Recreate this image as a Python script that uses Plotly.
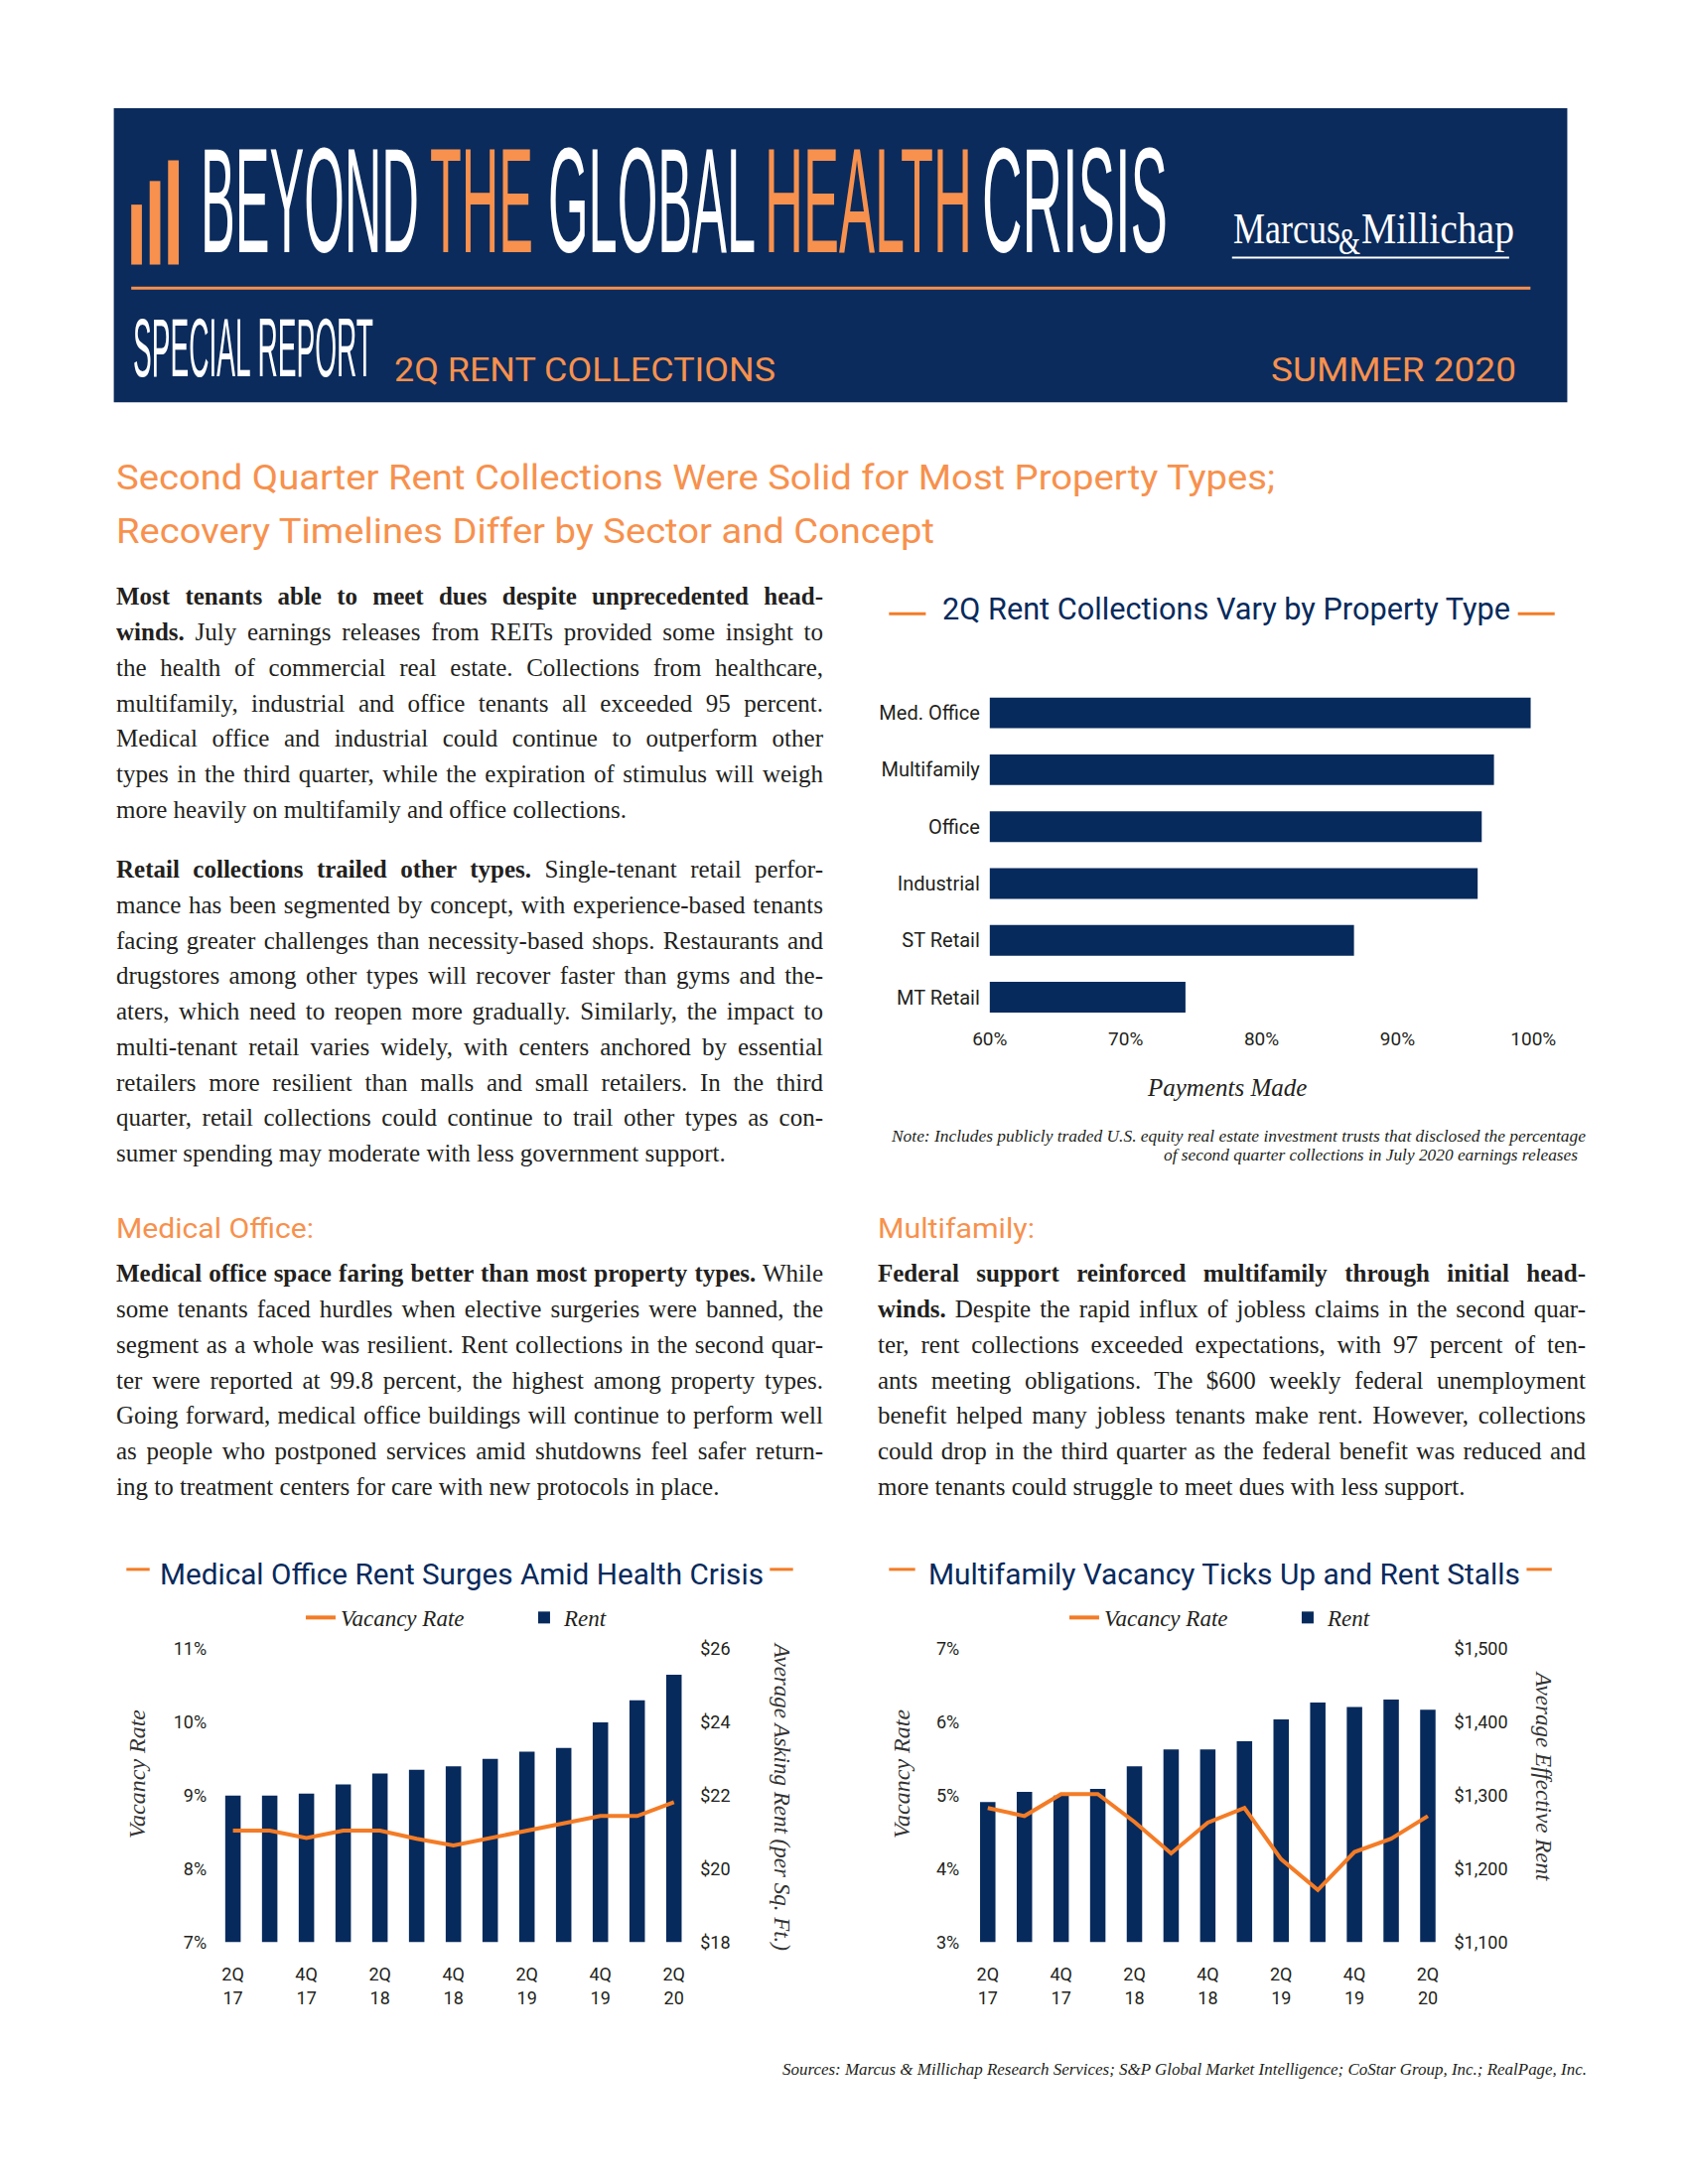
import json
import plotly.graph_objects as go

# ---------------- data ----------------
property_types = ["Med. Office", "Multifamily", "Office", "Industrial", "ST Retail", "MT Retail"]
payments_made = [99.8, 97.1, 96.2, 95.9, 86.8, 74.4]
payment_ticks = [60, 70, 80, 90, 100]
payment_tick_text = ["60%", "70%", "80%", "90%", "100%"]

quarters = ["2Q17", "3Q17", "4Q17", "1Q18", "2Q18", "3Q18", "4Q18",
            "1Q19", "2Q19", "3Q19", "4Q19", "1Q20", "2Q20"]
quarter_tick_vals = ["2Q17", "4Q17", "2Q18", "4Q18", "2Q19", "4Q19", "2Q20"]
quarter_tick_text = ["2Q<br>17", "4Q<br>17", "2Q<br>18", "4Q<br>18", "2Q<br>19", "4Q<br>19", "2Q<br>20"]

med_rent = [22.0, 22.0, 22.05, 22.3, 22.6, 22.7, 22.8, 23.0, 23.2, 23.3, 24.0, 24.6, 25.3]
med_vacancy = [8.52, 8.52, 8.42, 8.52, 8.52, 8.41, 8.32, 8.42, 8.52, 8.63, 8.72, 8.72, 8.91]
mf_rent = [1291, 1305, 1300, 1309, 1340, 1363, 1363, 1374, 1404, 1427, 1421, 1431, 1417]
mf_vacancy = [4.83, 4.72, 5.02, 5.02, 4.64, 4.21, 4.63, 4.83, 4.13, 3.71, 4.23, 4.41, 4.72]

# ---------------- text ----------------
para1 = [
    "<b>Most tenants able to meet dues despite unprecedented head-</b>",
    "<b>winds.</b> July earnings releases from REITs provided some insight to",
    "the health of commercial real estate. Collections from healthcare,",
    "multifamily, industrial and office tenants all exceeded 95 percent.",
    "Medical office and industrial could continue to outperform other",
    "types in the third quarter, while the expiration of stimulus will weigh",
    "more heavily on multifamily and office collections.",
]
para2 = [
    "<b>Retail collections trailed other types.</b> Single-tenant retail perfor-",
    "mance has been segmented by concept, with experience-based tenants",
    "facing greater challenges than necessity-based shops. Restaurants and",
    "drugstores among other types will recover faster than gyms and the-",
    "aters, which need to reopen more gradually. Similarly, the impact to",
    "multi-tenant retail varies widely, with centers anchored by essential",
    "retailers more resilient than malls and small retailers. In the third",
    "quarter, retail collections could continue to trail other types as con-",
    "sumer spending may moderate with less government support.",
]
para_med = [
    "<b>Medical office space faring better than most property types.</b> While",
    "some tenants faced hurdles when elective surgeries were banned, the",
    "segment as a whole was resilient. Rent collections in the second quar-",
    "ter were reported at 99.8 percent, the highest among property types.",
    "Going forward, medical office buildings will continue to perform well",
    "as people who postponed services amid shutdowns feel safer return-",
    "ing to treatment centers for care with new protocols in place.",
]
para_mf = [
    "<b>Federal support reinforced multifamily through initial head-</b>",
    "<b>winds.</b> Despite the rapid influx of jobless claims in the second quar-",
    "ter, rent collections exceeded expectations, with 97 percent of ten-",
    "ants meeting obligations. The $600 weekly federal unemployment",
    "benefit helped many jobless tenants make rent. However, collections",
    "could drop in the third quarter as the federal benefit was reduced and",
    "more tenants could struggle to meet dues with less support.",
]

# ---------------- style ----------------
W, H = 1700, 2200
NAVY = "#072a5c"
BOX = "#0b2b5c"
ORANGE = "#f47c26"
ORANGE_TXT = "#f7914d"
INK = "#231f20"
SERIF = "Liberation Serif, DejaVu Serif, serif"
SANS = "Roboto, Liberation Sans, sans-serif"
COND = "Liberation Sans Narrow, Liberation Sans, Arial, sans-serif"


def X(px):
    return px / W


def Y(py):
    return 1 - py / H


annotations = []
shapes = []
fit_specs = []


def add_text(x, y, s, size, color=INK, family=SERIF, xanchor="left", angle=0,
             style="normal", weight="normal", fit=None, mode="spacingAndGlyphs", caps=None):
    annotations.append(dict(
        x=X(x), y=Y(y), xref="paper", yref="paper", text=s, showarrow=False,
        xanchor=xanchor, yanchor="middle", align=xanchor, textangle=angle,
        font=dict(family=family, size=size, color=color, style=style, weight=weight),
        borderpad=0,
    ))
    if fit:
        if caps:
            fit_specs.append([s, fit, "tall", caps[0], caps[1]])
        else:
            fit_specs.append([s, fit, mode])


def add_rect(x0, y0, x1, y1, color, layer="below"):
    shapes.append(dict(type="rect", xref="paper", yref="paper", x0=X(x0), x1=X(x1),
                       y0=Y(y1), y1=Y(y0), fillcolor=color, line=dict(width=0), layer=layer))


def add_line(x0, y0, x1, y1, color, width):
    shapes.append(dict(type="line", xref="paper", yref="paper", x0=X(x0), x1=X(x1),
                       y0=Y(y0), y1=Y(y1), line=dict(color=color, width=width)))


# ---------------- header ----------------
add_rect(99, 99, 1599, 398, BOX)
add_rect(117, 197, 128, 258, ORANGE_TXT, layer="above")
add_rect(136, 173, 147, 258, ORANGE_TXT, layer="above")
add_rect(155, 152, 166, 258, ORANGE_TXT, layer="above")
title_words = [("BEYOND", 188, 220, "white"), ("THE", 424, 104, ORANGE_TXT),
               ("GLOBAL", 546, 209, "white"), ("HEALTH", 770, 209, ORANGE_TXT),
               ("CRISIS", 994, 187, "white")]
for word, wx, ww, wc in title_words:
    add_text(wx, 204, word, 52, color=wc, family=COND, fit=ww, caps=(150, 254))
add_text(1253, 230, "Marcus", 36, color="white", family=SERIF, fit=108, caps=(215, 245))
add_text(1362, 242, "&", 26, color="white", family=SERIF, fit=22, caps=(231, 256))
add_text(1385, 230, "Millichap", 36, color="white", family=SERIF, fit=154, caps=(215, 245))
add_line(1253, 251, 1539, 251, "white", 2)
add_line(117, 282, 1561, 282, ORANGE_TXT, 3)
add_text(118, 352, "SPECIAL REPORT", 28, color="white", family=COND, fit=242, caps=(323, 379))
add_text(387, 364, "2Q RENT COLLECTIONS", 34, color=ORANGE_TXT, family=SANS, fit=384)
add_text(1292, 364, "SUMMER 2020", 34, color=ORANGE_TXT, family=SANS, fit=247)

# ---------------- headline ----------------
add_text(100, 475, "Second Quarter Rent Collections Were Solid for Most Property Types;", 35,
         color=ORANGE_TXT, family=SANS, fit=1167)
add_text(100, 530, "Recovery Timelines Differ by Sector and Concept", 35,
         color=ORANGE_TXT, family=SANS, fit=824)

BODY = 25
STEP = 36.1


def add_para(lines, x0, y0, width):
    for i, ln in enumerate(lines):
        last = i == len(lines) - 1
        add_text(x0, y0 + i * STEP, ln, BODY, color=INK, family=SERIF,
                 fit=None if last else width, mode="justify")


add_para(para1, 100, 595.5, 712)
add_para(para2, 100, 873, 712)
add_text(100, 1238, "Medical Office:", 28, color=ORANGE_TXT, family=SANS, fit=199)
add_text(886, 1238, "Multifamily:", 28, color=ORANGE_TXT, family=SANS, fit=158)
add_para(para_med, 100, 1284, 712)
add_para(para_mf, 886, 1284, 713)

# ---------------- chart titles ----------------
add_text(953, 613, "2Q Rent Collections Vary by Property Type", 28, color=NAVY, family=SANS,
         fit=572, caps=(602, 624))
add_line(899, 613, 937, 613, ORANGE, 3)
add_line(1548, 613, 1586, 613, ORANGE, 3)

add_text(145, 1585, "Medical Office Rent Surges Amid Health Crisis", 27, color=NAVY, family=SANS,
         fit=608, caps=(1574, 1596))
add_line(112, 1585, 136, 1585, ORANGE, 3)
add_line(776, 1585, 800, 1585, ORANGE, 3)

add_text(939, 1585, "Multifamily Vacancy Ticks Up and Rent Stalls", 27, color=NAVY, family=SANS,
         fit=596, caps=(1574, 1596))
add_line(899, 1585, 926, 1585, ORANGE, 3)
add_line(1557, 1585, 1583, 1585, ORANGE, 3)

# axis titles / notes
add_text(1248, 1095, "Payments Made", 25, color=INK, family=SERIF, xanchor="center", style="italic")
add_text(900, 1145, "Note: Includes publicly traded U.S. equity real estate investment trusts that disclosed the percentage",
         16, color=INK, family=SERIF, style="italic", fit=699)
add_text(1182, 1164, "of second quarter collections in July 2020 earnings releases",
         16, color=INK, family=SERIF, style="italic", fit=417)

add_text(123, 1793, "Vacancy Rate", 24, color="#333333", family=SERIF, xanchor="center", angle=-90, style="italic")
add_text(788, 1816, "Average Asking Rent (per Sq. Ft.)", 23, color="#333333", family=SERIF,
         xanchor="center", angle=90, style="italic")
add_text(912, 1793, "Vacancy Rate", 24, color="#333333", family=SERIF, xanchor="center", angle=-90, style="italic")
add_text(1574, 1795, "Average Effective Rent", 23, color="#333333", family=SERIF,
         xanchor="center", angle=90, style="italic")

add_text(788, 2094, "Sources: Marcus & Millichap Research Services; S&P Global Market Intelligence; CoStar Group, Inc.; RealPage, Inc.",
         16, color=INK, family=SERIF, style="italic", fit=810)

# ---------------- traces ----------------
fig = go.Figure()
fig.add_trace(go.Bar(x=payments_made, y=property_types, orientation="h", marker=dict(color=NAVY, line=dict(width=0)),
                     width=0.54, xaxis="x", yaxis="y", showlegend=False, hoverinfo="skip"))
fig.add_trace(go.Bar(x=quarters, y=med_rent, xaxis="x2", yaxis="y2", marker=dict(color=NAVY, line=dict(width=0)),
                     width=0.42, name="Rent", legend="legend", legendrank=2))
fig.add_trace(go.Scatter(x=quarters, y=med_vacancy, xaxis="x2", yaxis="y3", mode="lines",
                         line=dict(color=ORANGE, width=4), name="Vacancy Rate", legend="legend", legendrank=1))
fig.add_trace(go.Bar(x=quarters, y=mf_rent, xaxis="x3", yaxis="y4", marker=dict(color=NAVY, line=dict(width=0)),
                     width=0.42, name="Rent", legend="legend2", legendrank=2))
fig.add_trace(go.Scatter(x=quarters, y=mf_vacancy, xaxis="x3", yaxis="y5", mode="lines",
                         line=dict(color=ORANGE, width=4), name="Vacancy Rate", legend="legend2", legendrank=1))

tickfont = dict(family=SANS, size=18, color=INK)
base = dict(showgrid=False, zeroline=False, showline=False, ticks="", tickfont=tickfont, fixedrange=True)

legend_style = dict(orientation="h", xanchor="left", yanchor="middle", bgcolor="rgba(0,0,0,0)",
                    font=dict(family=SERIF, size=23, color=INK, style="italic"), traceorder="normal",
                    itemwidth=30, entrywidth=180)

fig.update_layout(
    width=W, height=H, autosize=False, margin=dict(l=0, r=0, t=0, b=0),
    paper_bgcolor="white", plot_bgcolor="white", showlegend=True,
    annotations=annotations, shapes=shapes,
    xaxis=dict(base, domain=[X(1003), X(1564)], anchor="y", range=[60, 100], tickvals=payment_ticks,
               ticktext=payment_tick_text, tickfont=dict(family=SANS, size=19, color=INK)),
    yaxis=dict(base, domain=[Y(1032), Y(685)], anchor="x", type="category", categoryorder="array",
               categoryarray=property_types, autorange="reversed", ticklabelstandoff=9,
               tickfont=dict(family=SANS, size=20, color=INK)),
    xaxis2=dict(base, domain=[X(203), X(696)], anchor="y2", type="category", categoryorder="array",
                categoryarray=quarters, tickvals=quarter_tick_vals, ticktext=quarter_tick_text,
                ticklabelstandoff=20),
    yaxis2=dict(base, domain=[Y(1964), Y(1666)], anchor="x2", side="right", range=[18, 26],
                dtick=2, tick0=18, tickprefix="$", ticklabelstandoff=7),
    yaxis3=dict(base, overlaying="y2", anchor="x2", side="left", range=[7, 11], dtick=1, tick0=7,
                ticksuffix="%", ticklabelstandoff=7),
    xaxis3=dict(base, domain=[X(982), X(1474)], anchor="y4", type="category", categoryorder="array",
                categoryarray=quarters, tickvals=quarter_tick_vals, ticktext=quarter_tick_text,
                ticklabelstandoff=20),
    yaxis4=dict(base, domain=[Y(1964), Y(1666)], anchor="x3", side="right", range=[1100, 1500],
                dtick=100, tick0=1100, tickprefix="$", tickformat=",d", ticklabelstandoff=7),
    yaxis5=dict(base, overlaying="y4", anchor="x3", side="left", range=[3, 7], dtick=1, tick0=3,
                ticksuffix="%", ticklabelstandoff=9),
    legend=dict(legend_style, x=X(292), y=Y(1634)),
    legend2=dict(legend_style, x=X(1080), y=Y(1634)),
)

post = """
document.documentElement.style.margin = '0';
document.documentElement.style.overflow = 'hidden';
document.body.style.margin = '0';
document.body.style.overflow = 'hidden';
var gd = document.getElementById('{plot_id}');
var specs = __SPECS__;
var map = {};
specs.forEach(function(s){ map[s[0]] = s; });
var cv = document.createElement('canvas').getContext('2d');
var nodes = gd.querySelectorAll('text.annotation-text');
for (var i = 0; i < nodes.length; i++) {
  var t = nodes[i];
  var raw = t.getAttribute('data-unformatted');
  if (raw === null || !Object.prototype.hasOwnProperty.call(map, raw)) continue;
  var s = map[raw];
  var target = s[1];
  try {
    if (s[2] === 'justify') {
      var nat = t.getComputedTextLength();
      var plain = raw.replace(/<[^>]*>/g, '');
      var n = (plain.match(/ /g) || []).length;
      if (nat < target && n > 0) {
        t.style.wordSpacing = ((target - nat) / n) + 'px';
        var now = t.getComputedTextLength();
        if (Math.abs(now - target) > 3) {
          t.style.wordSpacing = '';
          t.setAttribute('textLength', target);
          t.setAttribute('lengthAdjust', 'spacing');
        }
      } else {
        t.setAttribute('textLength', target);
        t.setAttribute('lengthAdjust', 'spacingAndGlyphs');
      }
    } else if (s[2] === 'tall') {
      t.setAttribute('textLength', target);
      t.setAttribute('lengthAdjust', 'spacingAndGlyphs');
      var cs = window.getComputedStyle(t);
      var fs = parseFloat(cs.fontSize);
      cv.font = cs.fontStyle + ' ' + cs.fontWeight + ' ' + fs + 'px ' + cs.fontFamily;
      var m = cv.measureText('H');
      var cap = m.actualBoundingBoxAscent || (0.716 * fs);
      var bb = t.getBBox();
      var yb = parseFloat(t.getAttribute('y'));
      if (isNaN(yb)) { yb = bb.y + bb.height * 0.8; }
      var r = t.getBoundingClientRect();
      var off = r.top - bb.y;
      var basePage = yb + off;
      var sy = (s[4] - s[3]) / cap;
      var dy = s[4] - basePage;
      t.setAttribute('transform', 'translate(0,' + (yb + dy) + ') scale(1,' + sy + ') translate(0,' + (-yb) + ')');
    } else {
      t.setAttribute('textLength', target);
      t.setAttribute('lengthAdjust', s[2]);
    }
  } catch (e) {}
}
""".replace("__SPECS__", json.dumps(fit_specs))

fig.write_html("out.html", include_plotlyjs=True, post_script=post,
               config={"displayModeBar": False})
